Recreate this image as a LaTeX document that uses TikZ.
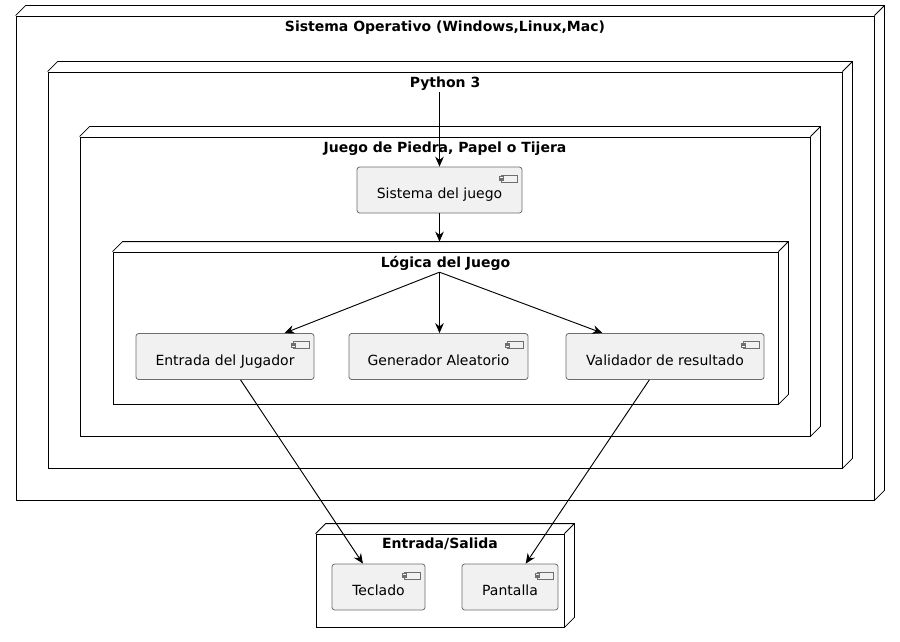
\documentclass[tikz,border=0pt]{standalone}
\usepackage{fontspec}
\setmainfont{DejaVu Sans}
\usetikzlibrary{arrows.meta,positioning,fit,calc}
\definecolor{compfill}{HTML}{F1F1F1}
\definecolor{compline}{HTML}{6E6E6E}
\tikzset{
  % Deployment node: front face only, depth drawn by \nodedepth
  depnode/.style={draw, rectangle, inner sep=0pt, line width=0.65pt, fill=white},
  depline/.style={line width=0.65pt, line join=miter},
  deptitle/.style={font=\fontsize{10.5}{12}\selectfont\bfseries, anchor=base, inner sep=1pt},
  % Component box: plain label, small component icon top right
  comp/.style={draw=compline, fill=compfill, rectangle, rounded corners=2pt,
               line width=0.6pt, font=\fontsize{10.5}{12}\selectfont,
               minimum height=34.5pt, inner sep=0pt, text height=13.2pt, text depth=0pt,
               path picture={
                 \coordinate (ic) at ([xshift=-3.75pt,yshift=-6pt]path picture bounding box.north east);
                 \draw[compline, line width=0.5pt, sharp corners] (ic) rectangle ++(-12pt,-5.25pt);
                 \draw[compline, line width=0.5pt, sharp corners, fill=compfill]
                   ([xshift=-13.5pt,yshift=-1pt]ic) rectangle ++(3pt,-1.2pt)
                   ([xshift=-13.5pt,yshift=-3pt]ic) rectangle ++(3pt,-1.2pt);
               }},
  % Arrows
  flowarr/.style={-{Stealth[length=7.5pt,width=6.5pt,inset=2.5pt]}, line width=0.7pt}
}
\newcommand{\nodedepth}[1]{%
  \draw[depline] (#1.north west) -- ++(10,-10) -| ([shift={(10,-10)}]#1.south east) -- (#1.south east)
    (#1.north east) -- ++(10,-10);}

\begin{document}
\begin{tikzpicture}[x=0.75pt, y=-0.75pt]
\useasboundingbox (0,0) rectangle (900,642);

% Nested deployment nodes: OS > Python 3 > game > logic
\node[depnode, fit={(16,16) (874,500)}] (os) {};
\nodedepth{os}
\node[deptitle] (ost) at ([shift={(0,16)}]os.north) {Sistema Operativo (Windows,Linux,Mac)};

\node[depnode, fit={(48,72) (842,468)}] (py) {};
\nodedepth{py}
\node[deptitle] (pyt) at ([shift={(0,16)}]py.north) {Python 3};

\node[depnode, fit={(80,137) (810,436)}] (jpt) {};
\nodedepth{jpt}
\node[deptitle] (jptt) at ([shift={(0,16)}]jpt.north) {Juego de Piedra, Papel o Tijera};

\node[comp, minimum width=123.75pt] (sdj) at (439.5,190) {Sistema del juego};

\node[depnode, fit={(113,252) (778,404)}] (lg) {};
\nodedepth{lg}
\node[deptitle] (lgt) at ([shift={(0,16)}]lg.north) {Lógica del Juego};

\node[comp, minimum width=133.5pt] (ejg) at (225,356.5) {Entrada del Jugador};
\node[comp, minimum width=134.25pt] (gal) at (438.5,356.5) {Generador Aleatorio};
\node[comp, minimum width=148.5pt] (vdr) at (665,356.5) {Validador de resultado};

% Input / output devices
\node[depnode, fit={(316,534) (564,627)}] (es) {};
\nodedepth{es}
\node[deptitle] (est) at ([shift={(0,15)}]es.north) {Entrada/Salida};

\node[comp, minimum width=69.75pt] (tec) at (378.5,587) {Teclado};
\node[comp, minimum width=72pt] (pan) at (510,587) {Pantalla};

% Arrows
\coordinate (lgtop) at ([shift={(0,-10)}]lg.north);
\coordinate (lgsrc) at (sdj.south |- lgt.south);
\draw[flowarr] (sdj.north |- pyt.south) -- (sdj.north);
\draw[flowarr] (sdj.south) -- (sdj.south |- lgtop);
\draw[flowarr] (lgsrc) -- (ejg);
\draw[flowarr] (lgsrc) -- (lgsrc |- gal.north);
\draw[flowarr] (lgsrc) -- (vdr);
\draw[flowarr] (ejg) -- (tec);
\draw[flowarr] (vdr) -- (pan);

\end{tikzpicture}
\end{document}
